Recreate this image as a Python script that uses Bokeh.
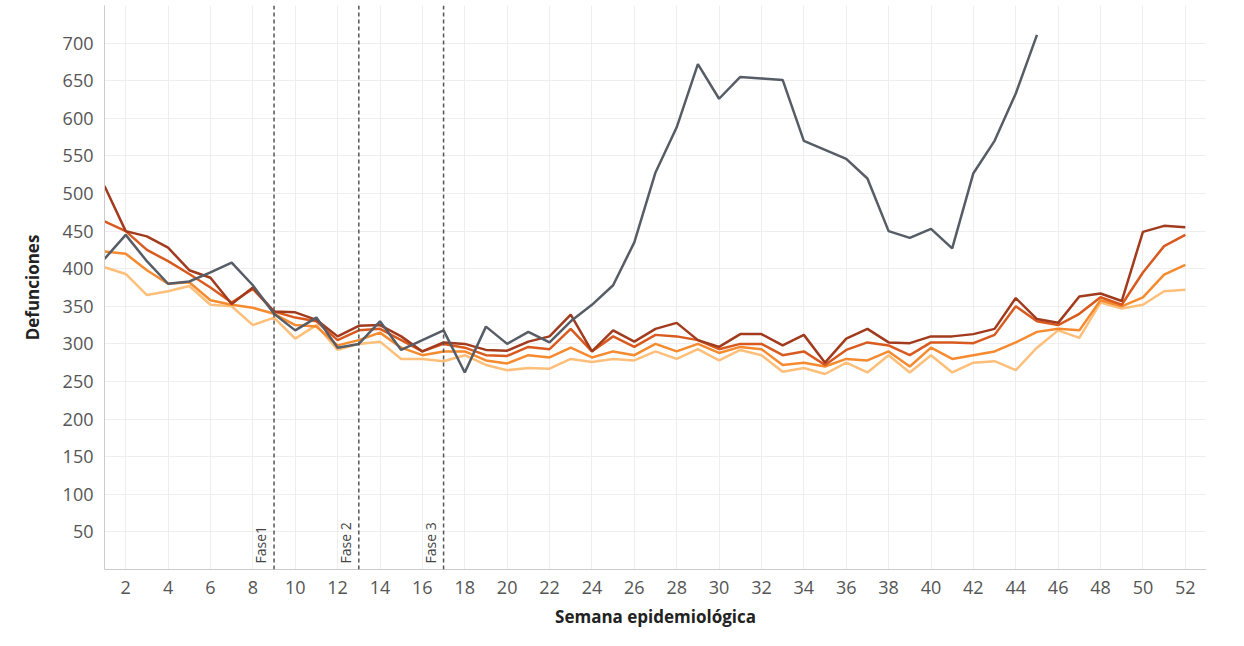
from bokeh.plotting import figure
from bokeh.models import Span, Label, FixedTicker
from bokeh.embed import file_html
from bokeh.resources import INLINE

weeks = list(range(1, 53))
weeks_2020 = list(range(1, 46))

y2020 = [413, 445, 410, 380, 383, 395, 408, 378, 340, 318, 335, 295, 300, 330, 292,
         305, 318, 262, 323, 300, 316, 302, 330, 352, 378, 435, 528, 588, 672, 626,
         655, 653, 651, 570, 558, 546, 520, 450, 441, 453, 427, 527, 570, 633, 711]
s_dark = [510, 450, 443, 428, 398, 388, 353, 375, 343, 342, 332, 310, 324, 325, 310,
          290, 302, 300, 292, 291, 303, 310, 339, 290, 318, 303, 320, 328, 305, 296,
          313, 313, 298, 312, 275, 307, 320, 302, 301, 310, 310, 313, 320, 361, 333,
          328, 363, 367, 357, 449, 457, 455]
s_red = [463, 450, 425, 410, 393, 375, 355, 373, 343, 335, 330, 305, 318, 320, 305,
         290, 300, 295, 285, 284, 296, 293, 320, 290, 310, 296, 312, 310, 305, 293,
         300, 300, 285, 290, 272, 292, 302, 298, 285, 302, 302, 301, 312, 350, 330,
         325, 340, 362, 352, 395, 430, 445]
s_orange = [423, 420, 398, 380, 382, 358, 352, 348, 340, 325, 323, 298, 305, 315, 295,
            285, 290, 290, 278, 274, 285, 282, 295, 282, 290, 285, 300, 290, 300, 288,
            296, 293, 272, 275, 270, 280, 278, 290, 270, 295, 280, 285, 290, 302, 316,
            320, 318, 358, 350, 362, 392, 405]
s_light = [402, 393, 365, 370, 377, 352, 350, 325, 335, 307, 325, 292, 300, 303, 280,
           280, 277, 285, 272, 265, 268, 267, 280, 276, 280, 278, 290, 280, 293, 278,
           292, 285, 263, 268, 260, 275, 262, 285, 262, 285, 262, 275, 277, 265, 295,
           318, 308, 355, 347, 352, 370, 372]

phases = [9, 13, 17]
phase_labels = ["Fase1", "Fase 2", "Fase 3"]

p = figure(width=1228, height=630, x_range=(1, 53), y_range=(0, 750),
           output_backend="svg", toolbar_location=None,
           min_border_left=104, min_border_right=22, min_border_top=5, min_border_bottom=53)
p.outline_line_color = None
p.background_fill_color = "white"

for ys, col in [(s_light, "#fdbf7a"), (s_orange, "#f58a2f"), (s_red, "#d95a1e"), (s_dark, "#a23b1e")]:
    p.line(weeks, ys, line_color=col, line_width=2.5)
p.line(weeks_2020, y2020, line_color="#565d66", line_width=2.5)

for wk, lab in zip(phases, phase_labels):
    p.add_layout(Span(location=wk, dimension="height", line_color="#555555",
                      line_dash="4 3", line_width=1.5))
    p.add_layout(Label(x=wk, y=8, text=lab, angle=1.5708, x_offset=-4,
                       text_font="Open Sans", text_font_size="14px", text_color="#444444",
                       text_baseline="bottom"))

p.xaxis.ticker = FixedTicker(ticks=list(range(2, 53, 2)))
p.yaxis.ticker = FixedTicker(ticks=list(range(50, 701, 50)))
p.xgrid.grid_line_color = "#eeeeee"
p.ygrid.grid_line_color = "#eeeeee"
for ax in (p.xaxis, p.yaxis):
    ax.axis_line_color = "#cccccc"
    ax.major_tick_line_color = None
    ax.minor_tick_line_color = None
    ax.major_label_text_font = "Open Sans"
    ax.major_label_text_font_size = "18px"
    ax.major_label_text_color = "#555555"
    ax.axis_label_text_font = "Open Sans"
    ax.axis_label_text_font_size = "17px"
    ax.axis_label_text_font_style = "bold"
    ax.axis_label_text_color = "#222222"
p.xaxis.axis_label_standoff = 8
p.yaxis.axis_label_standoff = 16
p.xaxis.axis_label = "Semana epidemiológica"
p.yaxis.axis_label = "Defunciones"

open("out.html", "w").write(file_html(p, INLINE))
